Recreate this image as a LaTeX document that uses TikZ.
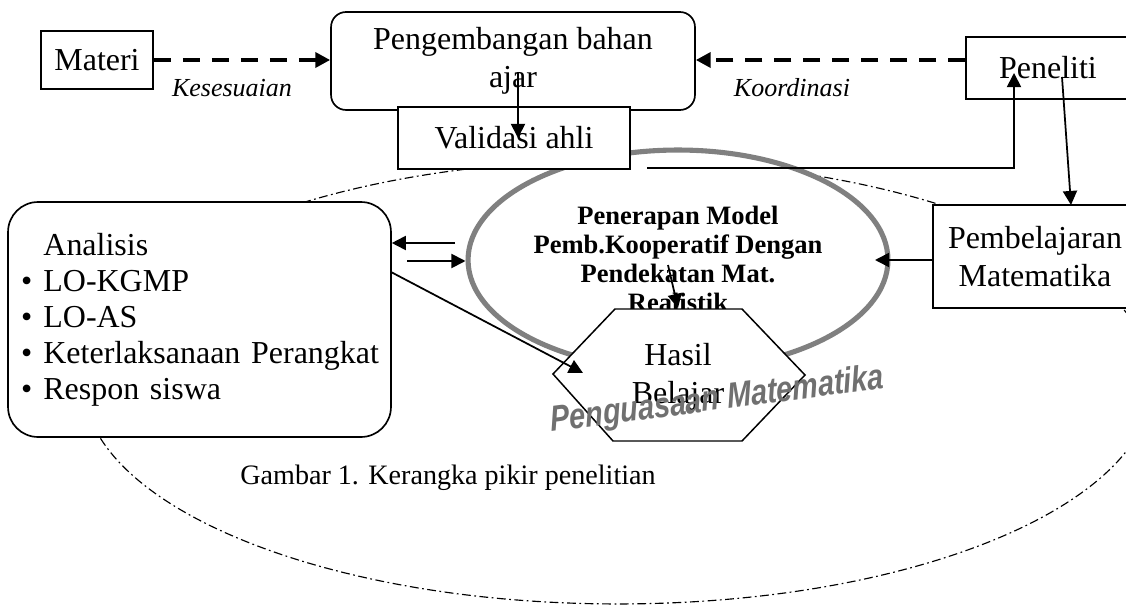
\documentclass[tikz,border=0pt]{standalone}
\usepackage{fontspec}
\setmainfont{Liberation Serif}
\newfontfamily\markfont{Liberation Sans}
\usepackage{tikz}
\usetikzlibrary{arrows.meta,positioning,shapes.geometric}
\usepackage{xcolor}
\definecolor{kpgray}{RGB}{128,128,128}
\definecolor{kpmark}{RGB}{112,112,112}
\newcommand{\boxfont}{\fontsize{18.2}{21.6}\selectfont}
\newcommand{\notefont}{\fontsize{14.8}{17}\selectfont\itshape}
\newcommand{\modelfont}{\fontsize{15.1}{16.5}\selectfont\bfseries}
\newcommand{\kpitem}{\makebox[0.95em][l]{\hspace{0.25em}\textbullet}}
\tikzset{
  plainbox/.style={rectangle,draw=black,line width=0.95pt,fill=white,inner sep=0pt,font=\boxfont,align=center},
  roundbox/.style={plainbox,rounded corners=0.3cm},
  modelring/.style={ellipse,draw=kpgray,line width=2.9pt,fill=white,inner sep=0pt,minimum width=8.4cm,minimum height=4.4cm},
  hexline/.style={draw=black,line width=0.85pt,fill=white,line join=miter},
  loopline/.style={draw=black,line width=0.65pt,dash pattern=on 5pt off 2pt on 1pt off 2pt},
  kparrow/.style={-{Triangle[length=8pt,width=8pt]},line width=1pt},
  dasharrow/.style={-{Triangle[length=8.5pt,width=8.5pt]},line width=2.3pt,dash pattern=on 9.7pt off 6.8pt}
}

\begin{document}
\begin{tikzpicture}[x=0.02cm,y=-0.02cm]
  \useasboundingbox (0,0) rectangle (1126,615);
  \clip (0,0) rectangle (1126,615);
  \draw[loopline] (618,382) ellipse [x radius=10.7cm,y radius=4.44cm];
  \node[modelring] (terapan) at (678,260) {};
  \node[font=\modelfont,align=center] (terapantext) at (678,259)
    {Penerapan Model\\Pemb.Kooperatif Dengan\\Pendekatan Mat.\\Realistik};
  \draw[hexline] (553,374) -- (615,309) -- (742,309) -- (805,375) -- (742,441) -- (613,441) -- cycle;
  \node[font=\boxfont,align=center] (hasil) at (678,377) {Hasil\\Belajar};
  \node[plainbox,minimum width=2.24cm,minimum height=1.16cm] (materi) at (97,60) {Materi};
  \node[roundbox,minimum width=7.28cm,minimum height=1.96cm] (bahan) at (513,61) {Pengembangan bahan\\ajar};
  \node[plainbox,minimum width=4.64cm,minimum height=1.24cm] (validasi) at (514,138) {Validasi ahli};
  \node[plainbox,minimum width=3.28cm,minimum height=1.24cm] (peneliti) at (1048,68) {Peneliti};
  \node[plainbox,minimum width=4.08cm,minimum height=2.06cm] (pembelajaran) at (1035,256.5) {Pembelajaran\\Matematika};
  \node[plainbox,rounded corners=0.6cm,font=\fontsize{18.2}{20.5}\selectfont,align=left,
    text width=7.46cm,inner xsep=0.1cm,minimum height=4.7cm] (analisis) at (199.5,319.5)
    {\hspace*{0.95em}Analisis\\\kpitem LO-KGMP\\\kpitem LO-AS\\\kpitem Keterlaksanaan Perangkat\\\kpitem Respon siswa};
  \draw[dasharrow] (materi.east) -- (materi.east -| bahan.west);
  \draw[dasharrow] (peneliti.west |- materi.east) -- (bahan.east |- materi.east);
  \node[font=\notefont] (kesesuaian) at (232,88) {Kesesuaian};
  \node[font=\notefont] (koordinasi) at (792,88) {Koordinasi};
  \coordinate (ajarpt) at (518,72);
  \draw[kparrow] (ajarpt) -- (ajarpt |- validasi.center);
  \coordinate (valout) at (647,168);
  \coordinate (penin) at (1014,73);
  \draw[kparrow] (valout) -| (penin);
  \coordinate (penout) at (1062,77);
  \coordinate (pembin) at (1071,205);
  \draw[kparrow] (penout) -- (pembin);
  \coordinate (ringright) at (875,260);
  \draw[kparrow] (pembelajaran.west |- ringright) -- (ringright);
  \coordinate (ringleft) at (455,243);
  \draw[kparrow] (ringleft) -- (analisis.east |- ringleft);
  \coordinate (anout) at (407,261);
  \draw[kparrow] (anout) -- (terapan.west |- anout);
  \coordinate (andiag) at (391,272);
  \coordinate (hasilin) at (583,373);
  \draw[kparrow] (andiag) -- (hasilin);
  \coordinate (modelout) at (668,265);
  \coordinate (hasiltop) at (678,308);
  \draw[kparrow] (modelout) -- (hasiltop);
  \node[font=\fontsize{16}{19}\selectfont] (caption) at (448,478) {Gambar 1. Kerangka pikir penelitian};
  \node[font=\markfont\bfseries\itshape\fontsize{20.5}{24}\selectfont,text=kpmark,
    xscale=0.8,rotate=6,anchor=base] (penguasaan) at (718,410) {Penguasaan Matematika};
\end{tikzpicture}
\end{document}
